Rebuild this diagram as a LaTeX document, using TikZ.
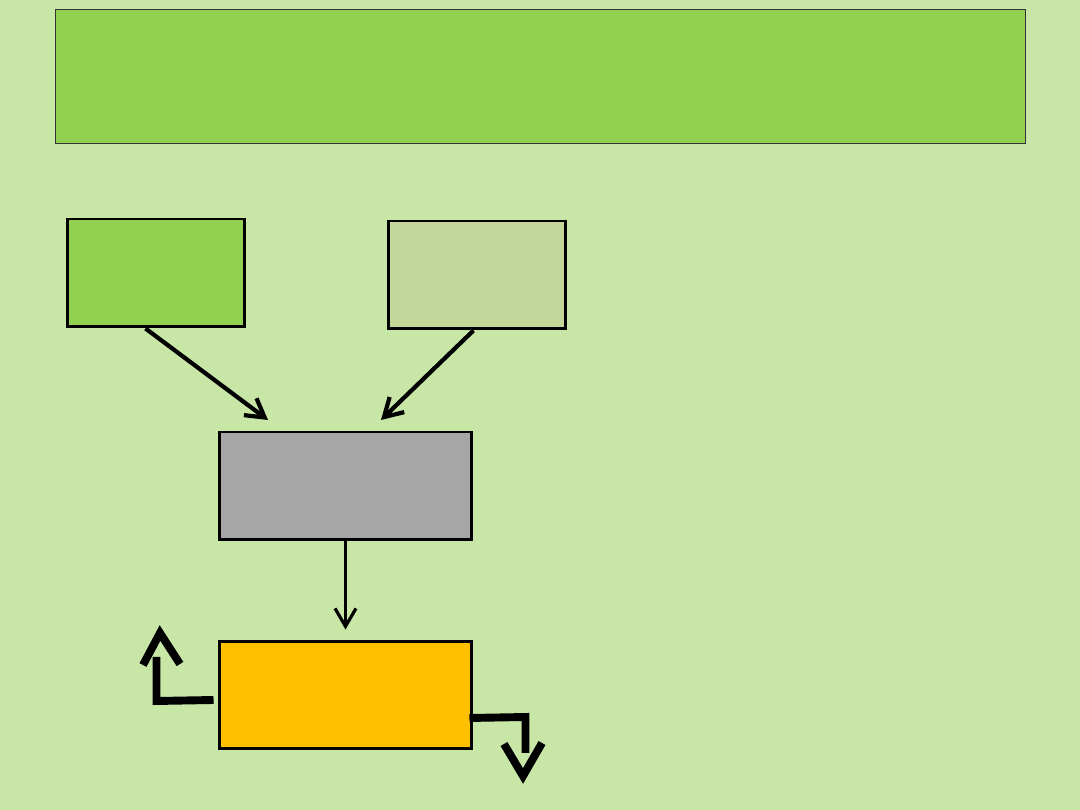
\documentclass[tikz,border=0pt]{standalone}
\usepackage{tikz}
\usetikzlibrary{arrows.meta}
\definecolor{slidebg}{HTML}{C8E7A7}
\definecolor{titlegreen}{HTML}{92D050}
\definecolor{olivebox}{HTML}{C4D79B}
\definecolor{greybox}{HTML}{A6A6A6}
\definecolor{amberbox}{HTML}{FFC000}
\tikzset{
  blockbox/.style={draw=black, line width=1.7pt, inner sep=0pt, minimum width=3.56cm, minimum height=2.16cm},
  wideblock/.style={blockbox, minimum width=5.06cm},
  feed/.style={line width=2.4pt, -{Straight Barb[length=0.36cm,width=0.42cm]}},
  bentarrow/.style={line width=4.5pt},
}

\begin{document}
\begin{tikzpicture}[x=0.02cm, y=-0.02cm]
        \fill[slidebg] (0,0) rectangle (1080,810);
        \useasboundingbox (0,0) rectangle (1080,810);
        % title bar
        \node[draw=black!80, line width=0.5pt, fill=titlegreen, inner sep=0pt, minimum width=19.42cm, minimum height=2.68cm] (title) at (540.5,76){};

        % top row
        \node[blockbox, fill=titlegreen] (left) at (156,273){};
        \node[blockbox, fill=olivebox] (right) at (477,275){};
        % middle
        \node[wideblock, fill=greybox] (mid) at (345.5,486){};
        % bottom
        \node[wideblock, fill=amberbox] (out) at (345.5,695){};

        % arrows into the middle box
        \coordinate (inleft) at (268,420);
        \coordinate (inright) at (381,420);
        \draw[feed] ([xshift=-6]left.south) -- (inleft);
        \draw[feed] ([xshift=-2]right.south) -- (inright);
        \draw[feed, line width=1.8pt, shorten >=0.2cm] (mid.south) -- (out.north);

        % bent arrows
        \coordinate (uptip) at (160,633);
        \coordinate (downtip) at (523,776);
        \draw[bentarrow] ([shift={(-4,5)}]out.west) -- ++(-57,1) -- ++(0,-44);
        \draw[bentarrow] ([shift={(-17,32)}]uptip) -- (uptip) -- ([shift={(20,31)}]uptip);
        \draw[bentarrow] ([shift={(-4,23)}]out.east) -- ++(56,-1) -- ++(0,36);
        \draw[bentarrow] ([shift={(-19,-32)}]downtip) -- (downtip) -- ([shift={(19,-33)}]downtip);
    \end{tikzpicture}
\end{document}
